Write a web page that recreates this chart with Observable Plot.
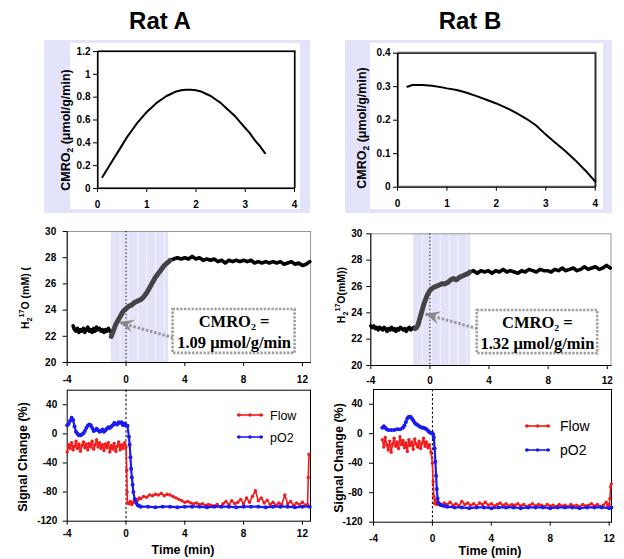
<!DOCTYPE html>
<html><head><meta charset="utf-8">
<script src="https://cdn.jsdelivr.net/npm/d3@7"></script>
<script src="https://cdn.jsdelivr.net/npm/@observablehq/plot@0.6"></script>
<style>
body{margin:0;background:#fff;}
#root{position:relative;width:624px;height:559px;overflow:hidden;background:#fff;}
</style></head><body><div id="root"></div>
<script>
// ---------- tick labels / categories ----------
const titles = ["Rat A", "Rat B"];
const doseTicks = [0, 1, 2, 3, 4];
const cmroATicks = [0, 0.2, 0.4, 0.6, 0.8, 1, 1.2];
const cmroBTicks = [0, 0.1, 0.2, 0.3, 0.4];
const timeTicks = [-4, 0, 4, 8, 12];
const h2oTicks = [20, 22, 24, 26, 28, 30];
const signalTicks = [-120, -80, -40, 0, 40];
const seriesNames = ["Flow", "pO2"];

// ---------- top panels: CMRO2 curves ----------
const ratA_cmro2 = [[0.1,0.10],[0.2,0.17],[0.3,0.24],[0.4,0.31],[0.5,0.38],[0.6,0.45],[0.7,0.51],[0.8,0.57],[0.9,0.62],[1.0,0.67],[1.1,0.71],[1.2,0.75],[1.3,0.78],[1.4,0.81],[1.5,0.83],[1.6,0.85],[1.7,0.86],[1.8,0.865],[1.9,0.865],[2.0,0.86],[2.1,0.85],[2.2,0.83],[2.3,0.81],[2.4,0.78],[2.5,0.75],[2.6,0.71],[2.7,0.67],[2.8,0.63],[2.9,0.58],[3.0,0.53],[3.1,0.48],[3.2,0.42],[3.3,0.37],[3.4,0.31]];
const ratB_cmro2 = [[0.2,0.300],[0.3,0.305],[0.5,0.305],[0.7,0.303],[0.9,0.298],[1.0,0.295],[1.2,0.290],[1.4,0.282],[1.6,0.272],[1.8,0.261],[2.0,0.250],[2.2,0.237],[2.4,0.222],[2.6,0.205],[2.8,0.185],[3.0,0.157],[3.2,0.132],[3.4,0.107],[3.6,0.080],[3.8,0.050],[4.0,0.017]];

// ---------- middle panels: H2 17O ----------
const ratA_h2oBase = [[-3.6,22.8],[-3.5,22.5],[-3.4,22.4],[-3.3,22.6],[-3.2,22.3],[-3.1,22.5],[-3.0,22.4],[-2.9,22.6],[-2.8,22.3],[-2.7,22.5],[-2.6,22.7],[-2.5,22.4],[-2.4,22.5],[-2.3,22.3],[-2.2,22.6],[-2.1,22.4],[-2.0,22.7],[-1.9,22.5],[-1.8,22.6],[-1.7,22.4],[-1.6,22.5],[-1.5,22.3],[-1.4,22.5],[-1.3,22.4],[-1.2,22.6],[-1.1,22.4],[-1.0,22.3]];
const ratA_h2oRamp = [[-1.0,22.0],[-0.9,22.3],[-0.8,22.6],[-0.7,22.9],[-0.6,23.1],[-0.5,23.3],[-0.4,23.5],[-0.3,23.7],[-0.2,23.9],[-0.1,24.0],[0.0,24.1],[0.2,24.3],[0.4,24.4],[0.6,24.6],[0.8,24.7],[1.0,24.8],[1.2,25.0],[1.4,25.3],[1.6,25.7],[1.8,26.1],[2.0,26.5],[2.2,26.8],[2.4,27.1],[2.6,27.4],[2.8,27.6],[3.0,27.8]];
const ratA_h2oPlateau = [[3.0,27.8],[3.25,27.9],[3.5,28.0],[3.75,27.9],[4.0,28.0],[4.25,27.9],[4.5,28.1],[4.75,27.9],[5.0,28.0],[5.25,27.8],[5.5,27.9],[5.75,27.8],[6.0,27.9],[6.25,27.7],[6.5,27.8],[6.75,27.6],[7.0,27.8],[7.25,27.7],[7.5,27.8],[7.75,27.7],[8.0,27.8],[8.25,27.7],[8.5,27.8],[8.75,27.6],[9.0,27.7],[9.25,27.6],[9.5,27.7],[9.75,27.6],[10.0,27.7],[10.25,27.6],[10.5,27.7],[10.75,27.5],[11.0,27.6],[11.25,27.7],[11.5,27.5],[11.75,27.6],[12.0,27.4],[12.25,27.5],[12.5,27.7]];
const ratB_h2oBase = [[-4.0,23.0],[-3.9,22.9],[-3.8,23.0],[-3.7,22.8],[-3.6,22.9],[-3.5,22.7],[-3.4,22.9],[-3.3,22.8],[-3.2,22.7],[-3.1,22.9],[-3.0,22.8],[-2.9,22.6],[-2.8,22.8],[-2.7,22.7],[-2.6,22.9],[-2.5,22.7],[-2.4,22.8],[-2.3,22.6],[-2.2,22.8],[-2.1,22.7],[-2.0,22.9],[-1.9,22.8],[-1.8,22.7],[-1.7,22.8],[-1.6,22.6],[-1.5,22.8],[-1.4,22.9],[-1.3,22.7],[-1.2,22.8],[-1.1,22.9],[-1.0,22.8]];
const ratB_h2oRamp = [[-1.0,22.8],[-0.9,22.9],[-0.8,23.1],[-0.7,23.5],[-0.6,23.9],[-0.5,24.3],[-0.4,24.7],[-0.3,25.0],[-0.2,25.3],[-0.1,25.5],[0.0,25.7],[0.2,25.9],[0.4,26.0],[0.6,26.1],[0.8,26.2],[1.0,26.2],[1.2,26.3],[1.4,26.5],[1.6,26.6],[1.8,26.5],[2.0,26.7],[2.2,26.8],[2.4,26.9],[2.6,27.0],[2.7,27.1]];
const ratB_h2oPlateau = [[2.7,27.1],[2.95,27.2],[3.2,27.0],[3.45,27.2],[3.7,27.1],[3.95,27.2],[4.2,27.0],[4.45,27.2],[4.7,27.1],[4.95,27.3],[5.2,27.1],[5.45,27.2],[5.7,27.1],[5.95,27.0],[6.2,27.2],[6.45,27.1],[6.7,27.3],[6.95,27.2],[7.2,27.1],[7.45,27.3],[7.7,27.2],[7.95,27.2],[8.2,27.1],[8.45,27.3],[8.7,27.2],[8.95,27.4],[9.2,27.2],[9.45,27.3],[9.7,27.4],[9.95,27.2],[10.2,27.3],[10.45,27.5],[10.7,27.3],[10.95,27.4],[11.2,27.5],[11.45,27.3],[11.7,27.4],[11.95,27.6],[12.2,27.4]];
const ratA_window = [-1.0, 2.9];
const ratB_window = [-1.1, 2.75];
const cmroValues = ["1.09 μmol/g/min", "1.32 μmol/g/min"];

// ---------- bottom panels: signal change (%) ----------
const ratA_flow = [[-4.0,-25],[-3.9,-15],[-3.8,-20],[-3.7,-12],[-3.6,-22],[-3.5,-17],[-3.4,-10],[-3.3,-20],[-3.2,-14],[-3.1,-24],[-3.0,-16],[-2.9,-11],[-2.8,-19],[-2.7,-14],[-2.6,-22],[-2.5,-13],[-2.4,-18],[-2.3,-10],[-2.2,-21],[-2.1,-15],[-2.0,-8],[-1.9,-18],[-1.8,-12],[-1.7,-20],[-1.6,-15],[-1.5,-23],[-1.4,-14],[-1.3,-19],[-1.2,-12],[-1.1,-25],[-1.0,-16],[-0.9,-21],[-0.8,-13],[-0.7,-24],[-0.6,-17],[-0.5,-11],[-0.4,-22],[-0.3,-15],[-0.2,-20],[-0.1,-12],[0.0,-18],[0.05,-50],[0.08,-80],[0.1,-95],[0.2,-96],[0.3,-93],[0.4,-97],[0.5,-94],[0.6,-92],[0.7,-90],[0.8,-91],[0.9,-88],[1.0,-89],[1.2,-86],[1.4,-87],[1.6,-84],[1.8,-85],[2.0,-83],[2.2,-84],[2.4,-82],[2.6,-85],[2.8,-83],[3.0,-84],[3.2,-86],[3.4,-88],[3.6,-90],[3.8,-92],[4.0,-94],[4.2,-93],[4.4,-95],[4.6,-96],[4.8,-95],[5.0,-97],[5.2,-96],[5.4,-98],[5.6,-97],[5.8,-98],[6.0,-99],[6.2,-97],[6.4,-100],[6.6,-96],[6.8,-93],[7.0,-97],[7.2,-92],[7.4,-96],[7.6,-94],[7.8,-90],[8.0,-96],[8.2,-88],[8.4,-94],[8.6,-86],[8.8,-78],[9.0,-92],[9.2,-88],[9.4,-95],[9.6,-91],[9.8,-97],[10.0,-94],[10.2,-98],[10.4,-95],[10.6,-97],[10.8,-84],[11.0,-96],[11.2,-93],[11.4,-98],[11.6,-95],[11.8,-97],[12.0,-94],[12.2,-98],[12.35,-97],[12.4,-60],[12.45,-28]];
const ratA_pO2 = [[-4.0,12],[-3.9,14],[-3.8,18],[-3.7,22],[-3.6,19],[-3.5,10],[-3.4,3],[-3.3,0],[-3.2,-2],[-3.1,-2],[-3.0,-1],[-2.9,1],[-2.8,4],[-2.7,8],[-2.6,11],[-2.5,13],[-2.4,12],[-2.3,8],[-2.2,4],[-2.1,5],[-2.0,7],[-1.9,5],[-1.8,3],[-1.7,4],[-1.6,6],[-1.5,3],[-1.4,5],[-1.3,7],[-1.2,9],[-1.1,8],[-1.0,10],[-0.9,12],[-0.8,15],[-0.7,14],[-0.6,13],[-0.5,16],[-0.4,15],[-0.3,16],[-0.2,12],[-0.1,14],[0.0,12],[0.1,11],[0.2,-4],[0.25,-15],[0.3,-32],[0.35,-48],[0.4,-60],[0.45,-70],[0.5,-80],[0.6,-90],[0.7,-95],[0.8,-98],[0.9,-99],[1.0,-100],[1.5,-100],[2.0,-101],[2.5,-100],[3.0,-100],[3.5,-101],[4.0,-100],[4.5,-100],[5.0,-100],[5.5,-101],[6.0,-100],[6.5,-100],[7.0,-100],[7.5,-101],[8.0,-100],[8.5,-100],[9.0,-100],[9.5,-101],[10.0,-100],[10.5,-100],[11.0,-100],[11.5,-101],[12.0,-100],[12.5,-100]];
const ratB_flow = [[-3.4,-8],[-3.3,-18],[-3.2,-5],[-3.1,-15],[-3.0,-22],[-2.9,-10],[-2.8,-25],[-2.7,-14],[-2.6,-6],[-2.5,-17],[-2.4,-11],[-2.3,-20],[-2.2,-4],[-2.1,-15],[-2.0,-9],[-1.9,-19],[-1.8,-12],[-1.7,-24],[-1.6,-8],[-1.5,-16],[-1.4,-11],[-1.3,-21],[-1.2,-7],[-1.1,-14],[-1.0,-18],[-0.9,-10],[-0.8,-20],[-0.7,-13],[-0.6,-6],[-0.5,-17],[-0.4,-11],[-0.3,-19],[-0.2,-15],[-0.1,-25],[0.0,-40],[0.05,-65],[0.1,-85],[0.15,-95],[0.2,-90],[0.3,-96],[0.4,-93],[0.5,-95],[0.6,-97],[0.8,-94],[1.0,-96],[1.2,-93],[1.4,-97],[1.6,-95],[1.8,-98],[2.0,-92],[2.2,-96],[2.4,-94],[2.6,-97],[2.8,-95],[3.0,-98],[3.2,-94],[3.4,-96],[3.6,-93],[3.8,-97],[4.0,-95],[4.2,-98],[4.4,-96],[4.6,-94],[4.8,-97],[5.0,-95],[5.2,-98],[5.4,-96],[5.6,-97],[5.8,-95],[6.0,-98],[6.2,-96],[6.4,-99],[6.6,-97],[6.8,-95],[7.0,-98],[7.2,-96],[7.4,-97],[7.6,-99],[7.8,-96],[8.0,-98],[8.2,-97],[8.4,-99],[8.6,-96],[8.8,-98],[9.0,-97],[9.2,-99],[9.4,-96],[9.6,-98],[9.8,-97],[10.0,-99],[10.2,-96],[10.4,-98],[10.6,-97],[10.8,-95],[11.0,-98],[11.2,-96],[11.4,-99],[11.6,-97],[11.8,-93],[11.9,-98],[12.0,-96],[12.05,-88],[12.1,-72],[12.15,-68]];
const ratB_pO2 = [[-3.4,8],[-3.3,10],[-3.2,8],[-3.1,6],[-3.0,5],[-2.8,5],[-2.6,5],[-2.4,6],[-2.2,6],[-2.0,8],[-1.9,11],[-1.8,16],[-1.7,21],[-1.6,23],[-1.5,23],[-1.4,21],[-1.3,18],[-1.2,15],[-1.1,13],[-1.0,12],[-0.9,10],[-0.8,9],[-0.7,8],[-0.6,8],[-0.5,7],[-0.4,6],[-0.3,4],[-0.2,2],[-0.1,1],[0.0,1],[0.05,-1],[0.1,-5],[0.15,-20],[0.2,-38],[0.25,-57],[0.3,-75],[0.35,-88],[0.4,-94],[0.5,-96],[0.6,-97],[0.8,-98],[1.0,-99],[1.5,-100],[2.0,-100],[2.5,-101],[3.0,-100],[3.5,-100],[4.0,-101],[4.5,-100],[5.0,-100],[5.5,-100],[6.0,-101],[6.5,-100],[7.0,-100],[7.5,-100],[8.0,-101],[8.5,-100],[9.0,-100],[9.5,-100],[10.0,-101],[10.5,-100],[11.0,-100],[11.5,-100],[12.0,-101],[12.15,-100]];

// ---------- rendering ----------
const FONT = "'Liberation Sans', Arial, sans-serif";
const SERIF = "'Liberation Serif', 'Times New Roman', serif";
const RED = "#f21a1a", BLUE = "#1a1af2", LAV = "#e3e3fb";
const root = document.getElementById("root");
const toObj = arr => arr.map(([t, v]) => ({t, v}));
const fmt = d => String(d);
const st = {background: "transparent", overflow: "visible", fontFamily: FONT, fontSize: "10px", fontWeight: "bold", color: "black"};

function place(el, left, top) {
  el.style.position = "absolute";
  el.style.left = left + "px";
  el.style.top = top + "px";
  root.appendChild(el);
  return el;
}
function box(left, top, w, h, color) {
  const d = document.createElement("div");
  d.style.width = w + "px"; d.style.height = h + "px"; d.style.background = color;
  return place(d, left, top);
}

// lavender panels behind top charts
box(44, 40, 266, 173, LAV); box(70, 42.7, 230, 166.6, "#fff");
box(345, 40, 267, 173, LAV); box(370, 42.7, 233, 166.6, "#fff");

function topPanel(data, yDomain, yTicks, m) {
  return Plot.plot({
    width: m.w, height: m.h, marginLeft: m.l, marginRight: m.r, marginTop: m.t, marginBottom: m.b,
    x: {domain: [0, 4]}, y: {domain: yDomain}, style: st,
    marks: [
      Plot.frame({stroke: "#777", dx: 1, dy: -1}),
      Plot.frame({stroke: "black", strokeWidth: 1.2}),
      Plot.axisX({ticks: doseTicks, tickSize: 4, tickPadding: m.xp, label: null, tickFormat: fmt}),
      Plot.axisY({ticks: yTicks, tickSize: 4, tickPadding: m.yp, label: null, tickFormat: fmt}),
      Plot.line(toObj(data), {x: "t", y: "v", stroke: "black", strokeWidth: 2})
    ]
  });
}
place(topPanel(ratA_cmro2, [0, 1.2], cmroATicks, {w: 266, h: 173, l: 53, r: 16, t: 11, b: 25, xp: 8, yp: 3}), 44, 40);
place(topPanel(ratB_cmro2, [0, 0.4], cmroBTicks, {w: 267, h: 173, l: 52, r: 17.3, t: 12.7, b: 26.3, xp: 9, yp: 3}), 345, 40);

function midPanel(base, ramp, plateau, win, label, m, ann) {
  const w0 = {start: win[0], end: win[1]};
  const chart = Plot.plot({
    width: m.w, height: m.h, marginLeft: m.l, marginRight: m.r, marginTop: m.t, marginBottom: m.b,
    x: {domain: m.xd}, y: {domain: [20, 30]}, style: st,
    marks: [
      Plot.rect([w0], {x1: "start", x2: "end", fill: "#e2e2f8"}),
      Plot.gridX([win[0] + 0.6, win[0] + 1.2, win[0] + 1.8, win[0] + 2.4, win[0] + 3.0, win[0] + 3.6].filter(v => v < win[1]), {stroke: "#f4f4ff", strokeOpacity: 1}),
      Plot.frame({stroke: "#999"}),
      Plot.frame({anchor: "left", stroke: "black"}),
      Plot.frame({anchor: "bottom", stroke: "black"}),
      Plot.ruleX([0], {stroke: "black", strokeDasharray: "1.2 2.4"}),
      Plot.axisX({ticks: timeTicks, tickSize: 4, tickPadding: m.xp, label: null, tickFormat: fmt}),
      Plot.axisY({ticks: h2oTicks, tickSize: 4, tickPadding: m.yp, label: null, tickFormat: fmt}),
      Plot.line(toObj(base), {x: "t", y: "v", stroke: "black", strokeWidth: 3.6}),
      Plot.line(toObj(plateau), {x: "t", y: "v", stroke: "black", strokeWidth: 3.6}),
      Plot.line(toObj(ramp), {x: "t", y: "v", stroke: "#444", strokeWidth: 5, strokeDasharray: "1 1"}),
      Plot.link([ann], {x1: "ax", y1: "ay", x2: "tx", y2: "ty", stroke: "#999", strokeWidth: 3, strokeDasharray: "2.5 1.8"}),
      Plot.rect([ann], {x1: "x1", x2: "x2", y1: "y1", y2: "y2", fill: "white", stroke: "#a0a0a0", strokeWidth: 2.6, strokeDasharray: "2.4 1.4"}),
      Plot.text([ann], {x: "cx", y: "l1", text: () => "CMRO₂ =", fontFamily: SERIF, fontSize: 16.5, fontWeight: "bold"}),
      Plot.text([ann], {x: "cx", y: "l2", text: () => label, fontFamily: SERIF, fontSize: 16.5, fontWeight: "bold"})
    ]
  });
  // arrowhead at the tip, in screen space from the plot's scales
  const sx = chart.scale("x"), sy = chart.scale("y");
  const x0 = sx.apply(ann.ax), y0 = sy.apply(ann.ay), x1 = sx.apply(ann.tx), y1 = sy.apply(ann.ty);
  const L = Math.hypot(x1 - x0, y1 - y0), ux = (x1 - x0) / L, uy = (y1 - y0) / L, nx = -uy, ny = ux;
  const hl = 15, hw = 6.5, notch = 9;
  const pts = [[x1, y1], [x1 - ux * hl + nx * hw, y1 - uy * hl + ny * hw], [x1 - ux * notch, y1 - uy * notch], [x1 - ux * hl - nx * hw, y1 - uy * hl - ny * hw]];
  d3.select(chart).append("polygon").attr("points", pts.map(p => p.join(",")).join(" ")).attr("fill", "#888");
  return chart;
}
place(midPanel(ratA_h2oBase, ratA_h2oRamp, ratA_h2oPlateau, ratA_window, cmroValues[0],
  {w: 300, h: 170, l: 46.7, r: 10, t: 11, b: 28, xd: [-4, 12.55], xp: 9, yp: 7},
  {x1: 3.2, x2: 11.5, y1: 20.7, y2: 24.05, cx: 7.35, l1: 23.1, l2: 21.5, ax: 3.2, ay: 21.9, tx: -0.45, ty: 23.05}), 20, 220);
place(midPanel(ratB_h2oBase, ratB_h2oRamp, ratB_h2oPlateau, ratB_window, cmroValues[1],
  {w: 290, h: 170, l: 40.3, r: 9.5, t: 11.3, b: 27, xd: [-4, 12.25], xp: 7.5, yp: 4.5},
  {x1: 3.2, x2: 11.35, y1: 20.9, y2: 24.18, cx: 7.27, l1: 23.25, l2: 21.65, ax: 3.2, ay: 22.8, tx: -0.3, ty: 23.9}), 330, 222);

function botPanel(flow, po2, m) {
  return Plot.plot({
    width: m.w, height: m.h, marginLeft: m.l, marginRight: m.r, marginTop: m.t, marginBottom: m.b,
    x: {domain: m.xd}, y: {domain: [-120, 60]}, style: st,
    marks: [
      Plot.frame({stroke: "black"}),
      Plot.ruleX([0], {stroke: "black", strokeDasharray: "2.5 2"}),
      Plot.axisX({ticks: timeTicks, tickSize: 4, tickPadding: m.xp, label: null, tickFormat: fmt}),
      Plot.axisY({ticks: signalTicks, tickSize: 4, tickPadding: m.yp, label: null, tickFormat: fmt}),
      Plot.line(toObj(flow), {x: "t", y: "v", stroke: RED, strokeWidth: 1.6}),
      Plot.dot(toObj(flow), {x: "t", y: "v", fill: RED, r: 1.7}),
      Plot.line(toObj(po2), {x: "t", y: "v", stroke: BLUE, strokeWidth: 2.2}),
      Plot.dot(toObj(po2), {x: "t", y: "v", fill: BLUE, r: 2})
    ]
  });
}
place(botPanel(ratA_flow, ratA_pO2, {w: 300, h: 175, l: 46.7, r: 10, t: 9.7, b: 34.3, xd: [-4, 12.55], xp: 5, yp: 6}), 20, 380);
place(botPanel(ratB_flow, ratB_pO2, {w: 290, h: 175, l: 43, r: 9, t: 9, b: 33.3, xd: [-4, 12.16], xp: 9, yp: 7}), 330, 380);

// ---------- overlay text: titles, axis titles, legends ----------
const ov = d3.select(root).append("svg").attr("width", 624).attr("height", 559)
  .style("position", "absolute").style("left", "0px").style("top", "0px").style("font-family", FONT);
titles.forEach((t, i) => ov.append("text").attr("x", [160, 470][i]).attr("y", 29).attr("text-anchor", "middle")
  .attr("font-size", 24).attr("font-weight", "bold").text(t));

function rich(sel, parts, size) {
  let shift = 0;
  parts.forEach(([s, kind]) => {
    const target = kind === "sub" ? size * 0.3 : kind === "sup" ? -size * 0.42 : 0;
    sel.append("tspan").attr("dy", target - shift).attr("font-size", kind ? size * 0.68 : size).text(s);
    shift = target;
  });
}
function ylab(cx, cy, parts, size) {
  const t = ov.append("text").attr("transform", `translate(${cx},${cy}) rotate(-90)`)
    .attr("text-anchor", "middle").attr("y", size * 0.36).attr("font-weight", "bold").attr("font-size", size);
  rich(t, parts, size);
}
ylab(65, 130, [["CMRO"], ["2", "sub"], [" (μmol/g/min)"]], 12.5);
ylab(361, 128, [["CMRO"], ["2", "sub"], [" (μmol/g/min)"]], 12.5);
ylab(25, 298, [["H"], ["2", "sub"], ["17", "sup"], ["O (mM) ("]], 10.5);
ylab(341, 295, [["H"], ["2", "sub"], ["17", "sup"], ["O(mM))"]], 10.5);
ylab(22.5, 457, [["Signal Change (%)"]], 12.5);
ylab(338.5, 458, [["Signal Change (%)"]], 12.5);
[[183, 554], [490, 555]].forEach(([x, y]) => ov.append("text").attr("x", x).attr("y", y).attr("text-anchor", "middle")
  .attr("font-size", 12.5).attr("font-weight", "bold").text("Time (min)"));

function legendItem(x1, x2, y, color, name, size, tx) {
  ov.append("line").attr("x1", x1).attr("x2", x2).attr("y1", y).attr("y2", y).attr("stroke", color).attr("stroke-width", 1.6);
  [x1 + 2, (x1 + x2) / 2, x2 - 2].forEach(cx => ov.append("circle").attr("cx", cx).attr("cy", y).attr("r", 1.8).attr("fill", color));
  ov.append("text").attr("x", tx).attr("y", y + size * 0.36).attr("font-size", size).text(name);
}
legendItem(237, 263, 415, RED, seriesNames[0], 12.5, 270);
legendItem(237, 263, 437, BLUE, seriesNames[1], 12.5, 270);
legendItem(525, 550, 426, RED, seriesNames[0], 14, 560);
legendItem(525, 550, 450, BLUE, seriesNames[1], 14, 560);
</script></body></html>
